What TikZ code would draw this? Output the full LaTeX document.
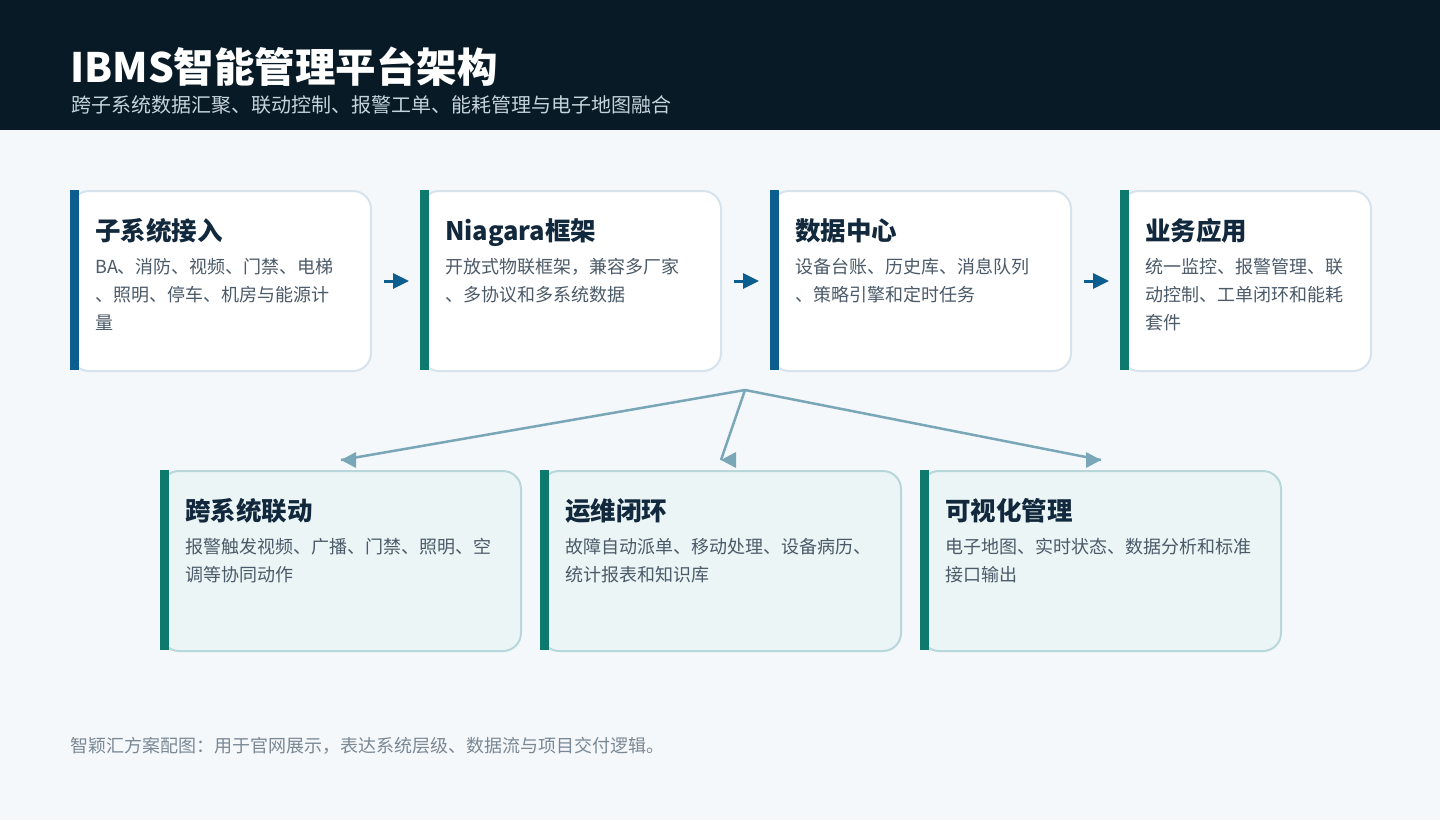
\documentclass[tikz,border=0pt]{standalone}
\usepackage{fontspec}
\setmainfont{Noto Sans CJK SC}
\usetikzlibrary{arrows.meta,calc}
\definecolor{bg}{HTML}{F4F8FB}
\definecolor{hdr}{HTML}{071A25}
\definecolor{subt}{HTML}{C5D3DD}
\definecolor{barblue}{HTML}{0B5E8E}
\definecolor{barteal}{HTML}{0E7A6E}
\definecolor{topborder}{HTML}{D6E3EC}
\definecolor{botfill}{HTML}{EBF5F6}
\definecolor{botborder}{HTML}{B8D7DB}
\definecolor{ttlc}{HTML}{12283C}
\definecolor{bodyc}{HTML}{4B5A68}
\definecolor{footc}{HTML}{7A8894}
\definecolor{conn}{HTML}{7AA7B8}
\begin{document}
\begin{tikzpicture}[x=1pt,y=-1pt,
  topcard/.style={draw=topborder, line width=2pt, fill=white, rounded corners=18pt,
    minimum height=180pt, anchor=north west, inner sep=0pt},
  botcard/.style={draw=botborder, line width=2pt, fill=botfill, rounded corners=18pt,
    minimum width=360pt, minimum height=180pt, anchor=north west, inner sep=0pt},
  ttl/.style={anchor=base west, inner sep=0pt, text=ttlc, font=\fontsize{25.5}{30}\selectfont\bfseries},
  bodytxt/.style={anchor=base west, inner sep=0pt, text=bodyc, font=\fontsize{18}{22}\selectfont},
  toparrow/.style={draw=barblue, line width=3pt, -{Triangle[length=16pt,width=15pt]},
    shorten <=12pt, shorten >=11pt},
  connline/.style={draw=conn, line width=2.5pt},
  connhead/.style={fill=conn}
]
\useasboundingbox (0,0) rectangle (1440,820);
\fill[bg] (0,0) rectangle (1440,820);
\fill[hdr] (0,0) rectangle (1440,130);
\node[anchor=base west, inner sep=0pt, text=white, font=\fontsize{40.5}{46}\selectfont\bfseries] (title) at (70,82) {IBMS智能管理平台架构};
\node[anchor=base west, inner sep=0pt, text=subt, font=\fontsize{20}{24}\selectfont] (subtitle) at (71,112) {跨子系统数据汇聚、联动控制、报警工单、能耗管理与电子地图融合};

% top cards
\node[topcard, minimum width=300pt] (c1) at (70,190) {};
\node[topcard, minimum width=300pt] (c2) at (420,190) {};
\node[topcard, minimum width=300pt] (c3) at (770,190) {};
\node[topcard, minimum width=250pt] (c4) at (1120,190) {};
\fill[barblue] (70,190) rectangle (79,370);
\fill[barteal] (420,190) rectangle (429,370);
\fill[barblue] (770,190) rectangle (779,370);
\fill[barteal] (1120,190) rectangle (1129,370);

\node[ttl] (c1t) at (95,240) {子系统接入};
\node[bodytxt] (c1a) at (95,273) {BA、消防、视频、门禁、电梯};
\node[bodytxt] (c1b) at (95,301) {、照明、停车、机房与能源计};
\node[bodytxt] (c1c) at (95,329) {量};

\node[ttl] (c2t) at (445,240) {Niagara框架};
\node[bodytxt] (c2a) at (445,273) {开放式物联框架，兼容多厂家};
\node[bodytxt] (c2b) at (445,301) {、多协议和多系统数据};

\node[ttl] (c3t) at (795,240) {数据中心};
\node[bodytxt] (c3a) at (795,273) {设备台账、历史库、消息队列};
\node[bodytxt] (c3b) at (795,301) {、策略引擎和定时任务};

\node[ttl] (c4t) at (1145,240) {业务应用};
\node[bodytxt] (c4a) at (1145,273) {统一监控、报警管理、联};
\node[bodytxt] (c4b) at (1145,301) {动控制、工单闭环和能耗};
\node[bodytxt] (c4c) at (1145,329) {套件};

\draw[toparrow] (c1.east) -- (c2.west);
\draw[toparrow] (c2.east) -- (c3.west);
\draw[toparrow] (c3.east) -- (c4.west);

% bottom cards
\node[botcard] (b1) at (160,470) {};
\node[botcard] (b2) at (540,470) {};
\node[botcard] (b3) at (920,470) {};
\fill[barteal] (160,470) rectangle (169,650);
\fill[barteal] (540,470) rectangle (549,650);
\fill[barteal] (920,470) rectangle (929,650);

\node[ttl] (b1t) at (185,520) {跨系统联动};
\node[bodytxt] (b1a) at (185,553) {报警触发视频、广播、门禁、照明、空};
\node[bodytxt] (b1b) at (185,581) {调等协同动作};

\node[ttl] (b2t) at (565,520) {运维闭环};
\node[bodytxt] (b2a) at (565,553) {故障自动派单、移动处理、设备病历、};
\node[bodytxt] (b2b) at (565,581) {统计报表和知识库};

\node[ttl] (b3t) at (945,520) {可视化管理};
\node[bodytxt] (b3a) at (945,553) {电子地图、实时状态、数据分析和标准};
\node[bodytxt] (b3b) at (945,581) {接口输出};

% connectors
\coordinate (hub) at (745,390);
\coordinate (e1) at ($(b1.north)+(0,-10)$);
\coordinate (e2) at ($(b2.north)+(0,-10)$);
\coordinate (e3) at ($(b3.north)+(0,-10)$);
\draw[connline, line join=round] (e1) -- (hub) -- (e3);
\draw[connline] (hub) -- (e2);
\fill[connhead] (e1) -- ++(15,-8) -- ++(0,16) -- cycle;
\fill[connhead] (e2) -- ++(15,-8) -- ++(0,16) -- cycle;
\fill[connhead] (e3) -- ++(-15,-8) -- ++(0,16) -- cycle;

\node[anchor=base west, inner sep=0pt, text=footc, font=\fontsize{18}{21}\selectfont] (foot) at (70,752) {智颖汇方案配图：用于官网展示，表达系统层级、数据流与项目交付逻辑。};
\end{tikzpicture}
\end{document}
